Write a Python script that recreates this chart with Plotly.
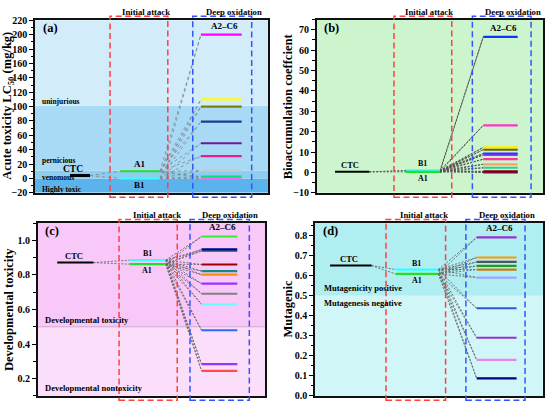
import plotly.graph_objects as go

# ---------------- data ----------------
stages = ["CTC", "Initial attack", "Deep oxidation"]
deep_label = "A2–C6"

# (a) Acute toxicity LC50 (mg/kg)
a_ctc = 4.0
a_A1 = 10.0
a_B1 = 0.0
a_deep = [200, 110, 100, 79, 49, 31, 11, 2.5, 0]
a_band_edges = [-20, 0, 11, 101, 220]
a_band_names = ["Highly toxic", "venomous", "pernicious", "uninjurious"]

# (b) Bioaccumulation coefficient
b_ctc = 0.3
b_A1 = 0.3
b_B1 = 1.0
b_deep = [66.5, 23.1, 12.3, 11.2, 9.3, 8.6, 6.5, 4.0, 2.3, 0.5, 0.0]

# (c) Developmental toxicity
c_ctc = 0.871
c_A1 = 0.862
c_B1 = 0.885
c_deep = [1.022, 0.947, 0.938, 0.86, 0.822, 0.801, 0.749, 0.691, 0.63, 0.48, 0.284, 0.245]
c_threshold = 0.5
c_band_names = ["Developmental nontoxicity", "Developmental toxicity"]

# (d) Mutagenic
d_ctc = 0.65
d_A1 = 0.608
d_B1 = 0.63
d_deep = [0.79, 0.69, 0.668, 0.648, 0.63, 0.59, 0.437, 0.29, 0.18, 0.088]
d_threshold = 0.5
d_band_names = ["Mutagenesis negative", "Mutagenicity positive"]

# ---------------- styles ----------------
SERIF = "Liberation Serif"
W, H = 550, 411

a_colors = ["#ff00ff", "#ffff00", "#808000", "#1f3a93", "#6a1b9a", "#e91e8c",
            "#c8c8c8", "#00e676", "#ff66ff"]
b_colors = ["#1133ff", "#ff33cc", "#ffee00", "#666600", "#3333ff", "#9933ff",
            "#ff3399", "#f4a460", "#33cc99", "#800000", "#800080"]
c_colors = ["#33ee33", "#000099", "#2e8b57", "#990000", "#138b8b", "#ff8c00",
            "#9933ff", "#808080", "#66ffff", "#3366ff", "#9933ff", "#ff4d4d"]
d_colors = ["#9933cc", "#ff9900", "#555555", "#229922", "#c08010", "#a8a0ff",
            "#3355dd", "#9933cc", "#ee82ee", "#000080"]

A1_COLOR = "#22e022"
B1_COLOR = "#33ffff"
RED = "#ff4040"
BLUE = "#3355ff"


def frac_x(px):
    return px / W


def frac_y(py):
    return 1 - py / H


panels = [
    dict(name="(a)", xa="x", ya="y",
         xdom=[frac_x(35), frac_x(268)], ydom=[frac_y(193), frac_y(15)],
         yrange=[-20, 221], dtick=20, mdtick=10, tfmt="d",
         pos=dict(ctc=(1.5, 2.36), ia=(3.65, 5.36), do=(7.12, 8.87),
                  iabox=(3.22, 5.7), dobox=(6.77, 9.3)),
         ctc=a_ctc, A1=a_A1, B1=a_B1, deep=a_deep, colors=a_colors,
         A1_above=True, ctc_lx=1.65, ctc_w=3, ctc_fs=9.5, lab_fs=9, ctc_ys=0,
         title="Acute toxicity LC<sub>50</sub> (mg/kg)", title_px=8.5,
         ia_lx=4.76, do_lx=8.54, conn=dict(dash="dot", color="#7f8f99", width=0.9)),
    dict(name="(b)", xa="x2", ya="y2",
         xdom=[frac_x(316.7), frac_x(543.3)], ydom=[frac_y(193), frac_y(15)],
         yrange=[-10, 75], dtick=10, mdtick=5, tfmt="d",
         pos=dict(ctc=(0.81, 2.32), ia=(3.94, 5.44), do=(7.35, 8.87),
                  iabox=(3.41, 5.96), dobox=(6.87, 9.46)),
         ctc=b_ctc, A1=b_A1, B1=b_B1, deep=b_deep, colors=b_colors,
         A1_above=False, ctc_lx=1.49, ctc_w=2, ctc_fs=8.5, lab_fs=8, ctc_ys=0,
         title="Bioaccumulation coeffcient", title_px=288,
         ia_lx=4.95, do_lx=8.65, conn=dict(dash="2px,1.5px", color="#555555", width=1)),
    dict(name="(c)", xa="x3", ya="y3",
         xdom=[frac_x(37.7), frac_x(265)], ydom=[frac_y(401.7), frac_y(224)],
         yrange=[0.1, 1.1], dtick=0.2, mdtick=0.1, tfmt=".1f",
         pos=dict(ctc=(0.86, 2.45), ia=(4.03, 5.63), do=(7.21, 8.78),
                  iabox=(3.58, 6.14), dobox=(6.7, 9.31)),
         ctc=c_ctc, A1=c_A1, B1=c_B1, deep=c_deep, colors=c_colors,
         A1_above=False, ctc_lx=1.6, ctc_w=2, ctc_fs=8.5, lab_fs=8, ctc_ys=0,
         title="Developmental toxicity", title_px=9.5,
         ia_lx=5.27, do_lx=8.48, conn=dict(dash="2px,1.5px", color="#666666", width=0.9)),
    dict(name="(d)", xa="x4", ya="y4",
         xdom=[frac_x(315), frac_x(543.3)], ydom=[frac_y(401.7), frac_y(224)],
         yrange=[0, 0.862], dtick=0.1, mdtick=0.05, tfmt=".1f",
         pos=dict(ctc=(0.66, 2.48), ia=(3.53, 5.4), do=(7.08, 8.83),
                  iabox=(3.11, 5.72), dobox=(6.61, 9.2)),
         ctc=d_ctc, A1=d_A1, B1=d_B1, deep=d_deep, colors=d_colors,
         A1_above=False, ctc_lx=1.49, ctc_w=2, ctc_fs=8.5, lab_fs=8, ctc_ys=0,
         title="Mutagenic", title_px=288,
         ia_lx=4.77, do_lx=8.43, conn=dict(dash="2px,1.5px", color="#666666", width=0.9)),
]

fig = go.Figure()
shapes = []
annotations = []


def bold(size):
    return dict(family=SERIF, size=size, color="black", weight="bold")


def seg(p, xs, v, color, width):
    fig.add_trace(go.Scatter(x=list(xs), y=[v, v], mode="lines", xaxis=p["xa"], yaxis=p["ya"],
                             line=dict(color=color, width=width), hoverinfo="skip",
                             showlegend=False))


def connector(p, x0, v0, x1, v1):
    fig.add_trace(go.Scatter(x=[x0, x1], y=[v0, v1], mode="lines", xaxis=p["xa"], yaxis=p["ya"],
                             line=p["conn"], hoverinfo="skip", showlegend=False))


layout_axes = {}
for i, p in enumerate(panels):
    pos = p["pos"]
    xa, ya = p["xa"], p["ya"]
    xkey = "xaxis" if xa == "x" else "xaxis" + xa[1:]
    ykey = "yaxis" if ya == "y" else "yaxis" + ya[1:]
    layout_axes[xkey] = dict(domain=p["xdom"], range=[0, 10], anchor=ya, showticklabels=False,
                             ticks="", showgrid=False, zeroline=False, showline=True,
                             mirror=True, linecolor="#111111", linewidth=1.5, fixedrange=True)
    layout_axes[ykey] = dict(domain=p["ydom"], range=p["yrange"], anchor=xa, dtick=p["dtick"],
                             tick0=0, tickformat=p["tfmt"], ticks="outside", ticklen=4,
                             tickwidth=1.2, tickcolor="black", showgrid=False, zeroline=False,
                             showline=True, mirror=True, linecolor="#111111", linewidth=1.5,
                             tickfont=bold(10), fixedrange=True, ticklabeloverflow="allow",
                             minor=dict(ticks="outside", ticklen=2.5, dtick=p["mdtick"],
                                        tickcolor="black", tickwidth=1, showgrid=False))

    xd = xa + " domain"
    yd = ya + " domain"

    # backgrounds
    if i == 0:
        band_cols = ["#5ab4eb", "#8ccdf0", "#a8daf5", "#d2ecfa"]
        for k in range(4):
            shapes.append(dict(type="rect", xref=xd, yref=ya, x0=0, x1=1,
                               y0=a_band_edges[k], y1=a_band_edges[k + 1],
                               fillcolor=band_cols[k], line=dict(width=0), layer="below"))
        band_label_y = [-15, 2.0, 25, 107.5]
        for name, yy in zip(a_band_names, band_label_y):
            annotations.append(dict(text=name, xref=xd, yref=ya, x=0.02, y=yy, xanchor="left",
                                    yanchor="middle", showarrow=False, font=bold(7.5)))
    elif i == 1:
        shapes.append(dict(type="rect", xref=xd, yref=yd, x0=0, x1=1, y0=0, y1=1,
                           fillcolor="#cdf5cd", line=dict(width=0), layer="below"))
    elif i == 2:
        shapes.append(dict(type="rect", xref=xd, yref=ya, x0=0, x1=1, y0=p["yrange"][0],
                           y1=c_threshold, fillcolor="#fadefa", line=dict(width=0), layer="below"))
        shapes.append(dict(type="rect", xref=xd, yref=ya, x0=0, x1=1, y0=c_threshold,
                           y1=p["yrange"][1], fillcolor="#f8c8f8", line=dict(width=0), layer="below"))
        shapes.append(dict(type="line", xref=xd, yref=ya, x0=0, x1=1, y0=c_threshold,
                           y1=c_threshold, line=dict(color="#d0a8d0", width=1), layer="below"))
        for name, yy in zip(c_band_names, [0.144, 0.54]):
            annotations.append(dict(text=name, xref=xd, yref=ya, x=0.023, y=yy, xanchor="left",
                                    yanchor="middle", showarrow=False, font=bold(8.5)))
    else:
        shapes.append(dict(type="rect", xref=xd, yref=ya, x0=0, x1=1, y0=p["yrange"][0],
                           y1=d_threshold, fillcolor="#d0f6f8", line=dict(width=0), layer="below"))
        shapes.append(dict(type="rect", xref=xd, yref=ya, x0=0, x1=1, y0=d_threshold,
                           y1=p["yrange"][1], fillcolor="#b0eef2", line=dict(width=0), layer="below"))
        for name, yy in zip(d_band_names, [0.463, 0.536]):
            annotations.append(dict(text=name, xref=xd, yref=ya, x=0.029, y=yy, xanchor="left",
                                    yanchor="middle", showarrow=False, font=bold(8.5)))

    # dashed stage boxes
    for key, col in (("iabox", RED), ("dobox", BLUE)):
        x0, x1 = pos[key]
        shapes.append(dict(type="rect", xref=xa, yref=yd, x0=x0, x1=x1, y0=-0.025, y1=1.02,
                           line=dict(color=col, width=1.5, dash="6px,3.5px"),
                           fillcolor="rgba(0,0,0,0)", layer="above"))

    # connectors
    for v in (p["A1"], p["B1"]):
        connector(p, pos["ctc"][1], p["ctc"], pos["ia"][0], v)
    for v in (p["A1"], p["B1"]):
        for dv in p["deep"]:
            connector(p, pos["ia"][1], v, pos["do"][0], dv)

    # level lines
    seg(p, pos["ctc"], p["ctc"], "black", p["ctc_w"])
    seg(p, pos["ia"], p["B1"], B1_COLOR, 2.2)
    seg(p, pos["ia"], p["A1"], A1_COLOR, 2.2)
    for dv, col in zip(reversed(p["deep"]), reversed(p["colors"])):
        seg(p, pos["do"], dv, col, 2.2)

    # labels
    iam = (pos["ia"][0] + pos["ia"][1]) / 2
    annotations.append(dict(text=stages[0], xref=xa, yref=ya, x=p["ctc_lx"], y=p["ctc"],
                            yanchor="bottom", yshift=p["ctc_ys"], showarrow=False,
                            font=bold(p["ctc_fs"])))
    annotations.append(dict(text="A1", xref=xa, yref=ya, x=iam, y=p["A1"],
                            yanchor="bottom" if p["A1_above"] else "top",
                            showarrow=False, font=bold(p["lab_fs"])))
    annotations.append(dict(text="B1", xref=xa, yref=ya, x=iam, y=p["B1"],
                            yanchor="top" if p["A1_above"] else "bottom",
                            showarrow=False, font=bold(p["lab_fs"])))
    dom = (pos["do"][0] + pos["do"][1]) / 2 + 0.12
    annotations.append(dict(text=deep_label, xref=xa, yref=ya, x=dom, y=max(p["deep"]),
                            yanchor="bottom", yshift=2, showarrow=False, font=bold(9)))
    annotations.append(dict(text=p["name"], xref=xd, yref=yd, x=0.025, y=0.952,
                            xanchor="left", yanchor="middle", showarrow=False, font=bold(12.5)))
    annotations.append(dict(text=stages[1], xref=xa, yref=yd, x=p["ia_lx"], y=1.045,
                            yanchor="middle", showarrow=False, font=bold(8.7)))
    annotations.append(dict(text=stages[2], xref=xa, yref=yd, x=p["do_lx"], y=1.045,
                            yanchor="middle", showarrow=False, font=bold(8.7)))
    annotations.append(dict(text=p["title"], xref="paper", yref=yd, x=frac_x(p["title_px"]),
                            y=0.5, xanchor="center", yanchor="middle", textangle=-90,
                            showarrow=False, font=bold(12.5)))

fig.update_layout(width=W, height=H, autosize=False, margin=dict(l=0, r=0, t=0, b=0),
                  paper_bgcolor="white", plot_bgcolor="white", showlegend=False,
                  shapes=shapes, annotations=annotations, **layout_axes)

fig.write_html("out.html", config={"displayModeBar": False},
               post_script="document.body.style.margin='0';document.body.style.padding='0';")
